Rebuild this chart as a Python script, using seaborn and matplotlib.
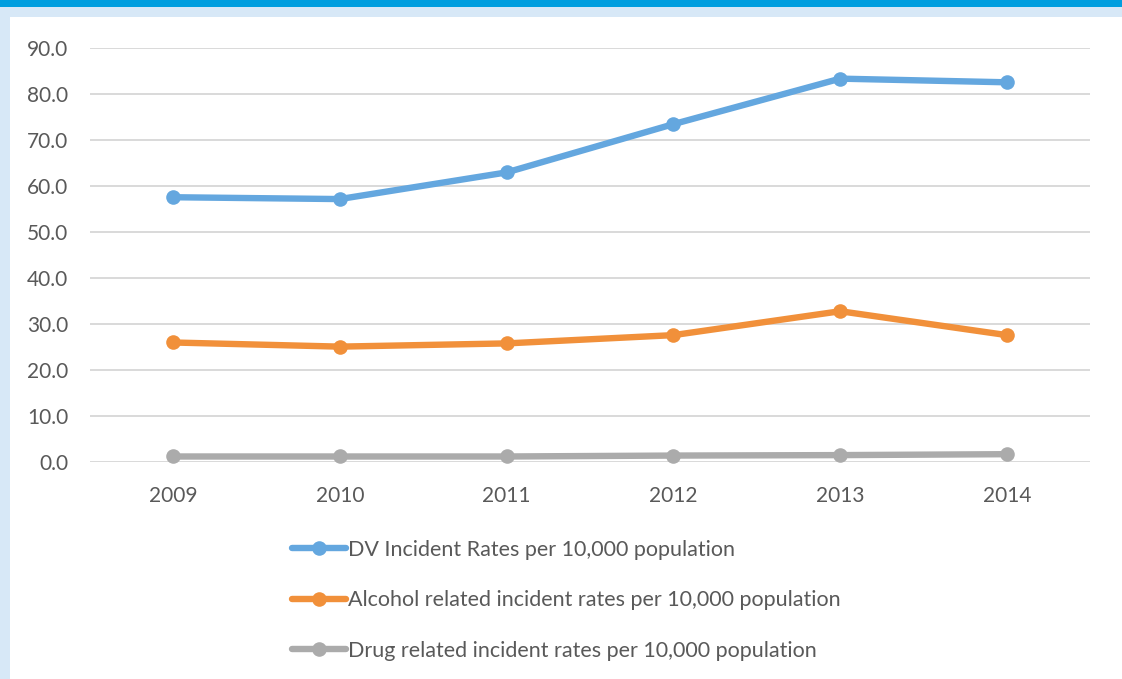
import matplotlib
matplotlib.use("Agg")
import matplotlib.pyplot as plt
from matplotlib.patches import Rectangle
import seaborn as sns
import pandas as pd

# Incident rates per 10,000 population, 2009-2014
years = ["2009", "2010", "2011", "2012", "2013", "2014"]
dv_rates = [57.6, 57.2, 63.0, 73.5, 83.4, 82.6]
alcohol_rates = [26.0, 25.1, 25.8, 27.6, 32.8, 27.6]
drug_rates = [1.2, 1.2, 1.2, 1.4, 1.5, 1.7]

series_names = [
    "DV Incident Rates per 10,000 population",
    "Alcohol related incident rates per 10,000 population",
    "Drug related incident rates per 10,000 population",
]
y_ticks = [0, 10, 20, 30, 40, 50, 60, 70, 80, 90]

colors = ["#64A7DF", "#F1903A", "#ABABAB"]
text_color = "#595959"

rows = []
for name, values in zip(series_names, [dv_rates, alcohol_rates, drug_rates]):
    for i, (yr, v) in enumerate(zip(years, values)):
        rows.append({"pos": i, "year": yr, "rate": v, "series": name})
df = pd.DataFrame(rows)

sns.set_theme(style="white")
plt.rcParams["font.family"] = ["Lato", "DejaVu Sans"]

W, H = 1122, 679
fig = plt.figure(figsize=(W / 100, H / 100), dpi=100, facecolor="white")

# Page frame: dark blue strip on top, pale blue border on the top and left
fig.patches.append(Rectangle((0, 1 - 7 / H), 1, 7 / H, transform=fig.transFigure,
                             facecolor="#009EDF", edgecolor="none", zorder=0))
fig.patches.append(Rectangle((0, 1 - 17 / H), 1, 10 / H, transform=fig.transFigure,
                             facecolor="#D7E8F7", edgecolor="none", zorder=0))
fig.patches.append(Rectangle((0, 0), 10 / W, 1 - 7 / H, transform=fig.transFigure,
                             facecolor="#D7E8F7", edgecolor="none", zorder=0))

left, right = 89.6 / W, 1090.4 / W
bottom, top = 1 - 462 / H, 1 - 48.3 / H
ax = fig.add_axes([left, bottom, right - left, top - bottom])
ax.set_facecolor("none")

sns.lineplot(data=df, x="pos", y="rate", hue="series", hue_order=series_names,
             palette=colors, marker="o", markersize=10.5, markeredgewidth=0,
             linewidth=4.6, ax=ax, clip_on=False, zorder=3)

ax.set_xlim(-0.5, 5.5)
ax.set_ylim(0, 90)
ax.set_yticks(y_ticks)
ax.set_yticklabels([f"{t:.1f}" for t in y_ticks])
ax.set_xticks(range(len(years)))
ax.set_xticklabels(years)
ax.tick_params(axis="both", length=0, labelsize=15, labelcolor=text_color)
ax.tick_params(axis="y", pad=15.5)
ax.tick_params(axis="x", pad=17)
ax.yaxis.grid(True, color="#D9D9D9", linewidth=1.4)
ax.xaxis.grid(False)
for s in ax.spines.values():
    s.set_visible(False)
ax.set_xlabel("")
ax.set_ylabel("")

handles, labels = ax.get_legend_handles_labels()
ax.get_legend().remove()
fig.legend(handles, labels, loc="upper left", bbox_to_anchor=(292 / W, 1 - 539.5 / H),
           frameon=False, fontsize=15.5, labelcolor=text_color, handlelength=2.5,
           handletextpad=0.12, labelspacing=1.42, borderaxespad=0, borderpad=0)

fig.savefig("out.png", dpi=100, facecolor="white")
